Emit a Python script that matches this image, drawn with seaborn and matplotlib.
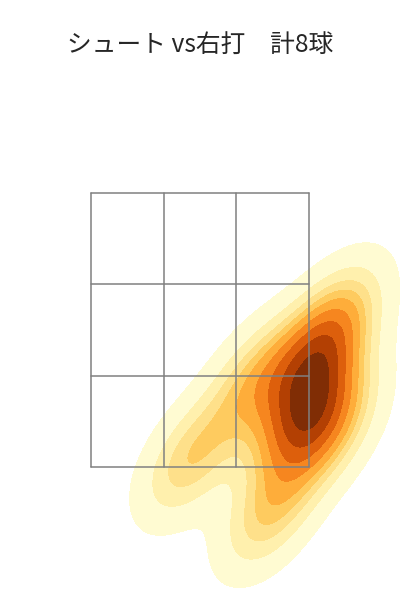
import seaborn as sns
import pandas as pd
import matplotlib.pyplot as plt

sns.set_theme(style="white")
plt.rcParams['font.family'] = ['Noto Sans CJK JP', 'DejaVu Sans']

# pitch locations (cm): horizontal, height
plate_x = [21.8, 22.2, 26.8, 25.8, -2.0, 13.9, 10.9, 19.8]
plate_z = [66.2, 59.3, 74.0, 52.3, 46.4, 36.0, 62.2, 53.3]

zone_x = [-21.6, -7.2, 7.2, 21.6]
zone_z = [45.0, 63.1, 81.2, 99.3]

title = "シュート vs右打　計8球"

df = pd.DataFrame({"x": plate_x, "z": plate_z})

fig = plt.figure(figsize=(4, 6), dpi=100)
ax = fig.add_axes([0, 0, 1, 1])

sns.kdeplot(data=df, x="x", y="z", fill=True, cmap="YlOrBr", ax=ax)

for xv in zone_x:
    ax.plot([xv, xv], [zone_z[0], zone_z[-1]], color="gray", lw=1.1)
for zv in zone_z:
    ax.plot([zone_x[0], zone_x[-1]], [zv, zv], color="gray", lw=1.1)

ax.set_xlim(-39.64, 39.64)
ax.set_ylim(18.64, 137.55)
ax.axis("off")

fig.text(0.5, 0.926, title, ha="center", va="center", fontsize=17.8)

plt.savefig("out.png")
